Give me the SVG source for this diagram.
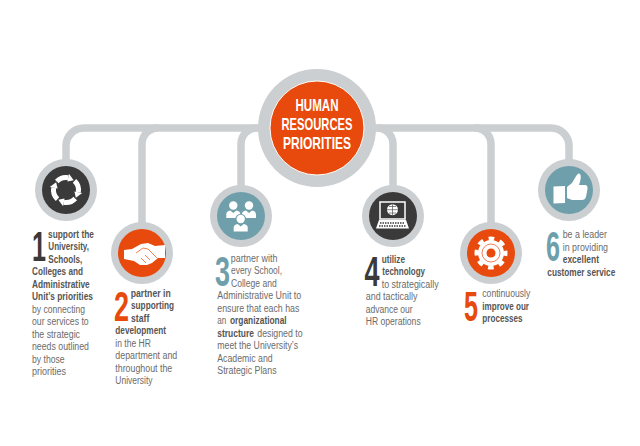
<svg xmlns="http://www.w3.org/2000/svg" xmlns:xlink="http://www.w3.org/1999/xlink" width="640" height="446" viewBox="0 0 640 446">
<style>
.ring{fill:#cbcfd1}
.dark{fill:#3b3a3a}.orange{fill:#e8490c}.teal{fill:#6f9fab}
.w{fill:#fff}
text{font-family:"Liberation Sans",Arial,sans-serif}
.t{font-size:11.5px;fill:#6b6b6b}
.b{font-weight:700;fill:#555}
.n{font-size:43px;font-weight:700}
.title{font-size:16px;font-weight:700;fill:#fff;text-anchor:middle}
.conn{fill:none;stroke:#cbcfd1;stroke-width:7.5}
</style>
<defs>
<g id="seg"><path d="M-9.2-8.5A12.5 12.5 0 0 1 2.2-12.3" fill="none" stroke="#fff" stroke-width="5"/><path d="M1.5-8.4L2.9-16.2L7.7-9.85Z" fill="#fff"/></g>
<g id="person"><circle r="4.2" fill="#fff"/><path d="M-7 12.5V8.5Q-7 5.8-3 5L0 7.5L3 5Q7 5.8 7 8.5V12.5Z" fill="#fff"/></g>
</defs>
<rect width="640" height="446" fill="#fff"/>
<g id="connectors" class="conn">
<path d="M66 165V146A18 18 0 0 1 84 128H551A18 18 0 0 1 569 146V165"/>
<path d="M142 225V144A16 16 0 0 1 158 128"/>
<path d="M241 190V144A16 16 0 0 1 257 128"/>
<path d="M393 190V144A16 16 0 0 0 377 128"/>
<path d="M491 225V144A16 16 0 0 0 475 128"/>
</g>
<g id="center">
<circle class="ring" cx="317" cy="128" r="59"/>
<circle class="orange" cx="317" cy="128" r="47" stroke="#fff" stroke-width="1"/>
<g transform="scale(.8 1)">
<text class="title" x="396.250" y="111.500" textLength="53.750" lengthAdjust="spacingAndGlyphs">HUMAN</text>
<text class="title" x="396.250" y="130.500" textLength="88.750" lengthAdjust="spacingAndGlyphs">RESOURCES</text>
<text class="title" x="396.250" y="149" textLength="85" lengthAdjust="spacingAndGlyphs">PRIORITIES</text>
</g>
</g>
<g id="node1">
<circle class="ring" cx="66" cy="190" r="31"/><circle class="dark" cx="66" cy="190" r="24"/>
<g transform="translate(66 190)"><use xlink:href="#seg"/><use xlink:href="#seg" transform="rotate(90)"/><use xlink:href="#seg" transform="rotate(180)"/><use xlink:href="#seg" transform="rotate(270)"/></g>
<g transform="scale(.6 1)"><text class="n" x="53.330" y="261.500" fill="#3b3a3a" textLength="23.330" lengthAdjust="spacingAndGlyphs">1</text></g>
<g class="t" transform="scale(.75 1)">
<text class="b" x="64" y="238" textLength="61.330" lengthAdjust="spacingAndGlyphs">support the</text>
<text class="b" x="64.400" y="250.500" textLength="54.270" lengthAdjust="spacingAndGlyphs">University,</text>
<text class="b" x="64.400" y="263" textLength="45.330" lengthAdjust="spacingAndGlyphs">Schools,</text>
<text class="b" x="42.670" y="275.500" textLength="68" lengthAdjust="spacingAndGlyphs">Colleges and</text>
<text class="b" x="42.670" y="288" textLength="76.930" lengthAdjust="spacingAndGlyphs">Administrative</text>
<text class="b" x="42.670" y="300.500" textLength="81.330" lengthAdjust="spacingAndGlyphs">Unit’s priorities</text>
<text x="42.670" y="313" textLength="70.670" lengthAdjust="spacingAndGlyphs">by connecting</text>
<text x="42.670" y="325.500" textLength="75.600" lengthAdjust="spacingAndGlyphs">our services to</text>
<text x="42.670" y="338" textLength="64" lengthAdjust="spacingAndGlyphs">the strategic</text>
<text x="42.670" y="350.500" textLength="76" lengthAdjust="spacingAndGlyphs">needs outlined</text>
<text x="42.670" y="363" textLength="43.600" lengthAdjust="spacingAndGlyphs">by those</text>
<text x="42.670" y="375.500" textLength="45.330" lengthAdjust="spacingAndGlyphs">priorities</text>
</g>
</g>
<g id="node2">
<circle class="ring" cx="142" cy="253" r="31"/><circle class="orange" cx="142" cy="253" r="24"/>
<path class="w" d="M124 250L132 249L141 244L148 243L155 246L165 245V258L158 258L152 263L147 265L140 265L134 261L124 259Z"/>
<path d="M136 253L143 248L148 249L157 258M141 258L146 263M145 255L150 260" fill="none" stroke="#e8490c" stroke-width=".7"/>
<g transform="scale(.6 1)"><text class="n" x="190" y="321" fill="#e8490c" textLength="25" lengthAdjust="spacingAndGlyphs">2</text></g>
<g class="t" transform="scale(.75 1)">
<text class="b" x="174.270" y="297" textLength="53.330" lengthAdjust="spacingAndGlyphs">partner in</text>
<text class="b" x="174.670" y="309.500" textLength="57.330" lengthAdjust="spacingAndGlyphs">supporting</text>
<text class="b" x="174.670" y="322" textLength="24.400" lengthAdjust="spacingAndGlyphs">staff</text>
<text class="b" x="153.730" y="334.500" textLength="67.600" lengthAdjust="spacingAndGlyphs">development</text>
<text x="153.730" y="347" textLength="47.600" lengthAdjust="spacingAndGlyphs">in the HR</text>
<text x="153.730" y="359.500" textLength="82.670" lengthAdjust="spacingAndGlyphs">department and</text>
<text x="153.730" y="372" textLength="76" lengthAdjust="spacingAndGlyphs">throughout the</text>
<text x="153.730" y="384.500" textLength="49.730" lengthAdjust="spacingAndGlyphs">University</text>
</g>
</g>
<g id="node3">
<circle class="ring" cx="241" cy="216" r="31"/><circle class="teal" cx="241" cy="216" r="24"/>
<use xlink:href="#person" x="233.300" y="205.500"/><use xlink:href="#person" x="249" y="205.500"/>
<circle cx="240.700" cy="219.300" r="5.500" fill="#6f9fab"/><path d="M232 232V227L240.700 222L249.500 227V232Z" fill="#6f9fab"/>
<use xlink:href="#person" x="240.700" y="219"/>
<g transform="scale(.6 1)"><text class="n" x="358.330" y="286" fill="#6f9fab" textLength="25" lengthAdjust="spacingAndGlyphs">3</text></g>
<g class="t" transform="scale(.75 1)">
<text x="307.600" y="262" textLength="62.270" lengthAdjust="spacingAndGlyphs">partner with</text>
<text x="308" y="274.500" textLength="68" lengthAdjust="spacingAndGlyphs">every School,</text>
<text x="308" y="287" textLength="60.930" lengthAdjust="spacingAndGlyphs">College and</text>
<text x="289.730" y="299.500" textLength="112" lengthAdjust="spacingAndGlyphs">Administrative Unit to</text>
<text x="289.730" y="312" textLength="109.330" lengthAdjust="spacingAndGlyphs">ensure that each has</text>
<text x="289.730" y="324.500" textLength="12" lengthAdjust="spacingAndGlyphs">an</text>
<text class="b" x="306.670" y="324.500" textLength="75.600" lengthAdjust="spacingAndGlyphs">organizational</text>
<text class="b" x="289.730" y="337" textLength="48.930" lengthAdjust="spacingAndGlyphs">structure</text>
<text x="343.070" y="337" textLength="60.400" lengthAdjust="spacingAndGlyphs">designed to</text>
<text x="289.730" y="349.500" textLength="107.600" lengthAdjust="spacingAndGlyphs">meet the University’s</text>
<text x="289.730" y="362" textLength="73.730" lengthAdjust="spacingAndGlyphs">Academic and</text>
<text x="289.730" y="374.500" textLength="79.070" lengthAdjust="spacingAndGlyphs">Strategic Plans</text>
</g>
</g>
<g id="node4">
<circle class="ring" cx="393" cy="216" r="31"/><circle class="dark" cx="393" cy="216" r="24"/>
<rect x="380" y="202" width="25" height="17" fill="none" stroke="#fff" stroke-width="1.500"/>
<circle cx="392.500" cy="209.700" r="5.500" fill="#fff"/>
<path d="M387 209.700H398M392.500 204.200V215.200M389 206.500H396M389 213H396" stroke="#3b3a3a" stroke-width=".6" fill="none"/>
<path class="w" d="M379 220H406L409 228.500H376Z"/>
<path d="M380 223H405M379 226H406" stroke="#3b3a3a" stroke-width="1.500" stroke-dasharray="1.500 1" fill="none"/>
<g transform="scale(.6 1)"><text class="n" x="607.500" y="286.500" fill="#3b3a3a" textLength="25" lengthAdjust="spacingAndGlyphs">4</text></g>
<g class="t" transform="scale(.75 1)">
<text class="b" x="508.930" y="263" textLength="31.070" lengthAdjust="spacingAndGlyphs">utilize</text>
<text class="b" x="509.730" y="275.500" textLength="56.930" lengthAdjust="spacingAndGlyphs">technology</text>
<text x="508.930" y="288" textLength="76" lengthAdjust="spacingAndGlyphs">to strategically</text>
<text x="487.600" y="300.500" textLength="68.930" lengthAdjust="spacingAndGlyphs">and tactically</text>
<text x="487.600" y="313" textLength="62.670" lengthAdjust="spacingAndGlyphs">advance our</text>
<text x="487.600" y="325.500" textLength="73.330" lengthAdjust="spacingAndGlyphs">HR operations</text>
</g>
</g>
<g id="node5">
<circle class="ring" cx="491" cy="253" r="31"/><circle class="orange" cx="491" cy="253" r="24"/>
<circle class="w" cx="491" cy="253" r="13"/>
<circle cx="491" cy="253" r="14.500" fill="none" stroke="#fff" stroke-width="4" stroke-dasharray="5.700 5.690" stroke-dashoffset="2.850"/>
<circle cx="491" cy="253" r="9" fill="none" stroke="#e8490c" stroke-width=".7"/>
<circle class="orange" cx="491" cy="253" r="4.500"/>
<g transform="scale(.6 1)"><text class="n" x="773.330" y="321" fill="#e8490c" textLength="23.330" lengthAdjust="spacingAndGlyphs">5</text></g>
<g class="t" transform="scale(.75 1)">
<text x="643.070" y="297.500" textLength="64" lengthAdjust="spacingAndGlyphs">continuously</text>
<text class="b" x="643.070" y="310" textLength="62.270" lengthAdjust="spacingAndGlyphs">improve our</text>
<text class="b" x="643.070" y="322.500" textLength="53.730" lengthAdjust="spacingAndGlyphs">processes</text>
</g>
</g>
<g id="node6">
<circle class="ring" cx="569" cy="190" r="31"/><circle class="teal" cx="569" cy="190" r="24"/>
<path class="w" d="M553.500 186.500L565 186V203L553.500 203.500Z"/>
<path class="w" d="M567 187L572 183L575 178Q578 172 580 174Q582 177 579 185L586 185Q588 186 587.500 189L586 197Q585 200 582 200L572 200L567 198Z"/>
<g transform="scale(.6 1)"><text class="n" x="910" y="261.500" fill="#6f9fab" textLength="23.330" lengthAdjust="spacingAndGlyphs">6</text></g>
<g class="t" transform="scale(.75 1)">
<text x="750.270" y="238.500" textLength="59.070" lengthAdjust="spacingAndGlyphs">be a leader</text>
<text x="750.270" y="251" textLength="60.400" lengthAdjust="spacingAndGlyphs">in providing</text>
<text class="b" x="750.270" y="263.500" textLength="48.400" lengthAdjust="spacingAndGlyphs">excellent</text>
<text class="b" x="729.730" y="276" textLength="90.670" lengthAdjust="spacingAndGlyphs">customer service</text>
</g>
</g>
</svg>
